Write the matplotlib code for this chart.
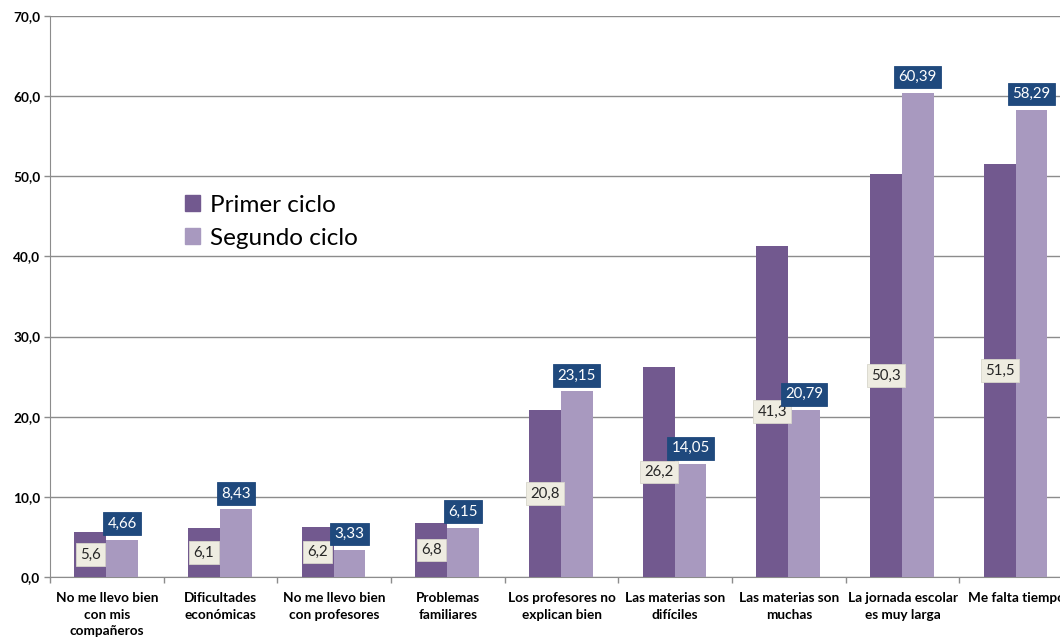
import numpy as np
import matplotlib.pyplot as plt
from matplotlib.patches import Patch
from matplotlib.ticker import FuncFormatter, FixedLocator

plt.rcParams['font.family'] = ['Lato', 'DejaVu Sans']

# ============================================================================
# DATA
# ============================================================================
categories = [
    'No me llevo bien\ncon mis\ncompañeros',
    'Dificultades\neconómicas',
    'No me llevo bien\ncon profesores',
    'Problemas\nfamiliares',
    'Los profesores no\nexplican bien',
    'Las materias son\ndifíciles',
    'Las materias son\nmuchas',
    'La jornada escolar\nes muy larga',
    'Me falta tiempo',
]
primer_ciclo = [5.6, 6.1, 6.2, 6.8, 20.8, 26.2, 41.3, 50.3, 51.5]
segundo_ciclo = [4.66, 8.43, 3.33, 6.15, 23.15, 14.05, 20.79, 60.39, 58.29]
primer_labels = ['5,6', '6,1', '6,2', '6,8', '20,8', '26,2', '41,3', '50,3', '51,5']
segundo_labels = ['4,66', '8,43', '3,33', '6,15', '23,15', '14,05', '20,79', '60,39', '58,29']

C_PRIMER = '#72598F'
C_SEGUNDO = '#A899BF'
C_GRID = '#8C8C8C'

# ============================================================================
# PLOT
# ============================================================================
fig = plt.figure(figsize=(10.6, 6.41), dpi=100)
# plot area runs past the right edge of the picture, as in the original
ax = fig.add_axes([50 / 1060, 1 - 577 / 641, 1023 / 1060, 561 / 641])

x = np.arange(len(categories))
w = 0.28
ax.bar(x - w / 2 - 0.005, primer_ciclo, w, color=C_PRIMER, zorder=3)
ax.bar(x + w / 2 - 0.005, segundo_ciclo, w, color=C_SEGUNDO, zorder=3)

# Labels: first series centred inside the bar, second series above the bar
for i in range(len(categories)):
    ax.text(x[i] - w / 2 - 0.005, primer_ciclo[i] / 2, primer_labels[i],
            ha='center', va='center', fontsize=10.8, color='#262626', zorder=5,
            bbox=dict(boxstyle='square,pad=0.28', fc='#EEECE1', ec='#D8D6CC', lw=0.6))
    ax.annotate(segundo_labels[i], (x[i] + w / 2 - 0.005, segundo_ciclo[i]),
                xytext=(0, 6.5), textcoords='offset points',
                ha='center', va='bottom', fontsize=10.8, color='white', zorder=5,
                bbox=dict(boxstyle='square,pad=0.28', fc='#1F497D', ec='#1F497D', lw=0.6))

ax.set_xlim(-0.5, len(categories) - 0.5)
ax.set_ylim(0, 70)
ax.set_yticks(np.arange(0, 71, 10))
ax.yaxis.set_major_formatter(FuncFormatter(lambda v, p: f'{v:.1f}'.replace('.', ',')))
ax.grid(axis='y', color=C_GRID, linewidth=1, zorder=0)

ax.xaxis.set_major_locator(FixedLocator(np.arange(-0.5, len(categories), 1)))
ax.xaxis.set_major_formatter(FuncFormatter(lambda v, p: ''))
ax.xaxis.set_minor_locator(FixedLocator(x))
ax.set_xticklabels(categories, minor=True, linespacing=1.45)
ax.tick_params(axis='x', which='minor', length=0, pad=11, labelsize=9.8)
ax.tick_params(axis='x', which='major', length=4, color=C_GRID, width=1)
ax.tick_params(axis='y', length=4, color=C_GRID, width=1, labelsize=9.8, pad=3)
for lab in ax.get_xticklabels(minor=True) + ax.get_yticklabels():
    lab.set_fontweight('bold')

for side in ['top', 'right']:
    ax.spines[side].set_visible(False)
ax.spines['left'].set_color(C_GRID)
ax.spines['bottom'].set_color(C_GRID)

handles = [Patch(color=C_PRIMER), Patch(color=C_SEGUNDO)]
ax.legend(handles, ['Primer ciclo', 'Segundo ciclo'], loc='upper left',
          bbox_to_anchor=(175 / 1060, 1 - 185 / 641), bbox_transform=fig.transFigure,
          frameon=False, fontsize=17.5, handlelength=0.62, handleheight=0.62,
          handletextpad=0.4, labelspacing=0.5, borderaxespad=0)

fig.savefig('out.png', dpi=100)
